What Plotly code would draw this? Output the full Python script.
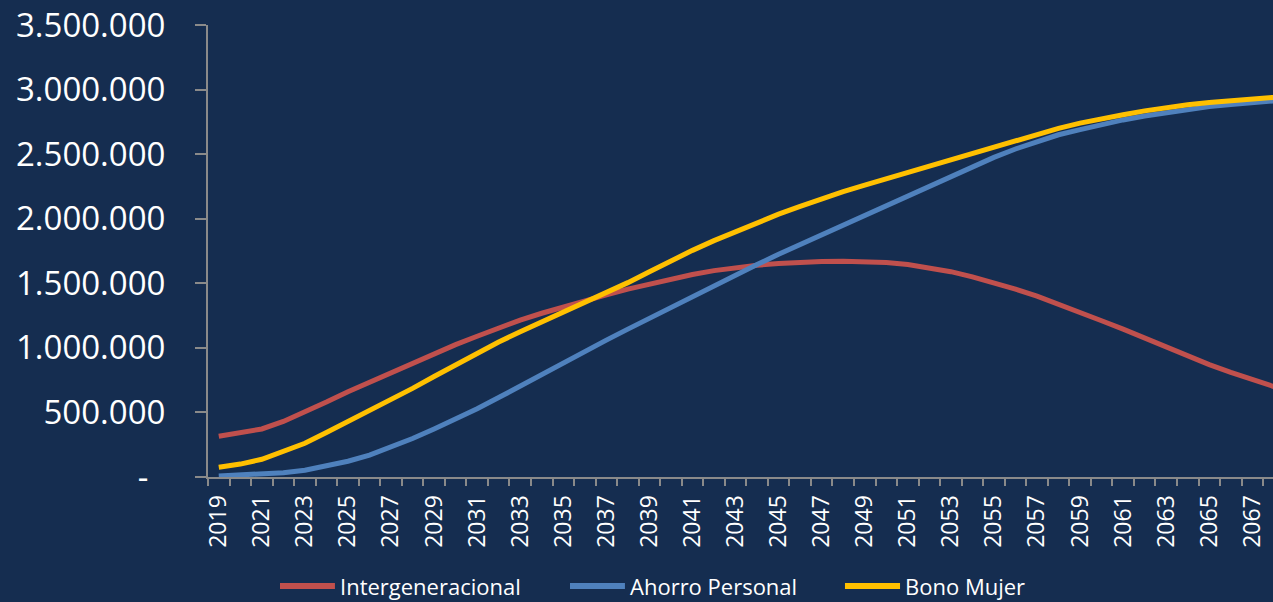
import plotly.graph_objects as go

# Projection years
years = list(range(2019, 2069))

# Series values (persons)
intergeneracional = [
    315000, 340000, 372000, 430000, 500000, 580000, 660000, 735000, 805000, 880000,
    955000, 1025000, 1090000, 1155000, 1215000, 1268000, 1318000, 1365000, 1410000, 1455000,
    1495000, 1535000, 1568000, 1598000, 1622000, 1640000, 1653000, 1662000, 1668000, 1670000,
    1668000, 1660000, 1645000, 1620000, 1590000, 1550000, 1505000, 1455000, 1400000, 1340000,
    1275000, 1210000, 1145000, 1075000, 1005000, 935000, 870000, 810000, 755000, 700000,
]
ahorro_personal = [
    8000, 14000, 22000, 33000, 52000, 84000, 122000, 170000, 230000, 298000,
    372000, 448000, 528000, 615000, 705000, 800000, 890000, 975000, 1060000, 1145000,
    1230000, 1315000, 1400000, 1485000, 1565000, 1645000, 1725000, 1800000, 1878000, 1955000,
    2030000, 2105000, 2180000, 2255000, 2330000, 2405000, 2475000, 2540000, 2600000, 2650000,
    2690000, 2730000, 2765000, 2795000, 2822000, 2847000, 2868000, 2885000, 2900000, 2912000,
]
bono_mujer = [
    75000, 100000, 137000, 195000, 261000, 345000, 428000, 512000, 596000, 686000,
    778000, 868000, 958000, 1045000, 1125000, 1200000, 1275000, 1345000, 1420000, 1505000,
    1590000, 1675000, 1755000, 1830000, 1900000, 1970000, 2035000, 2095000, 2155000, 2210000,
    2260000, 2310000, 2360000, 2410000, 2460000, 2510000, 2560000, 2610000, 2655000, 2700000,
    2740000, 2775000, 2805000, 2835000, 2860000, 2882000, 2900000, 2915000, 2930000, 2940000,
]

series_names = ["Intergeneracional", "Ahorro Personal", "Bono Mujer"]
series_colors = ["#C0504D", "#4F81BD", "#FFC000"]

# Axis labels
x_tick_years = list(range(2019, 2068, 2))
x_tick_labels = [str(y) for y in x_tick_years]
y_tick_values = [0, 500000, 1000000, 1500000, 2000000, 2500000, 3000000, 3500000]
y_tick_labels = ["-\u00a0\u00a0", "500.000", "1.000.000", "1.500.000", "2.000.000",
                 "2.500.000", "3.000.000", "3.500.000"]

BG = "#152d50"
AXIS = "#8a8a8a"
FONT = "Open Sans"

fig = go.Figure()
for name, values, color in zip(series_names,
                               [intergeneracional, ahorro_personal, bono_mujer],
                               series_colors):
    fig.add_trace(go.Scatter(
        x=years, y=values, name=name, mode="lines",
        line=dict(color=color, width=5),
        showlegend=False,
    ))

# Legend drawn below the axis as swatch + label pairs
legend_items = [
    (0.0676, 0.1192, 0.1220),
    (0.3399, 0.3915, 0.3943),
    (0.5981, 0.6498, 0.6526),
]
legend_y = -0.2412
for (x0, x1, xt), name, color in zip(legend_items, series_names, series_colors):
    fig.add_shape(type="line", xref="paper", yref="paper",
                  x0=x0, x1=x1, y0=legend_y, y1=legend_y,
                  line=dict(color=color, width=6))
    fig.add_annotation(xref="paper", yref="paper", x=xt, y=legend_y,
                       text=name, showarrow=False, xanchor="left", yanchor="middle",
                       font=dict(family=FONT, size=22, color="#ffffff"))

fig.update_xaxes(
    range=[2018.5, 2067.96],
    tickmode="array", tickvals=x_tick_years, ticktext=x_tick_labels,
    tickangle=-90,
    ticks="outside", ticklen=7, tickcolor="rgba(0,0,0,0)",
    minor=dict(tickmode="array", tickvals=[y - 0.5 for y in years] + [2068.5],
               ticks="outside", ticklen=7, tickwidth=2, tickcolor=AXIS),
    showline=True, linecolor=AXIS, linewidth=2,
    showgrid=False, zeroline=False,
    tickfont=dict(family=FONT, size=23, color="#ffffff"),
)
fig.update_yaxes(
    range=[0, 3500000],
    tickmode="array", tickvals=y_tick_values, ticktext=y_tick_labels,
    ticks="outside", ticklen=11, tickwidth=2, tickcolor=AXIS,
    ticklabelstandoff=23,
    showline=True, linecolor=AXIS, linewidth=2,
    showgrid=False, zeroline=False,
    tickfont=dict(family=FONT, size=33, color="#ffffff"),
)

fig.update_layout(
    width=1273, height=602,
    margin=dict(l=208, r=0, t=25, b=125),
    paper_bgcolor=BG, plot_bgcolor=BG,
    font=dict(family=FONT, color="#ffffff"),
)

fig.write_html("out.html")
